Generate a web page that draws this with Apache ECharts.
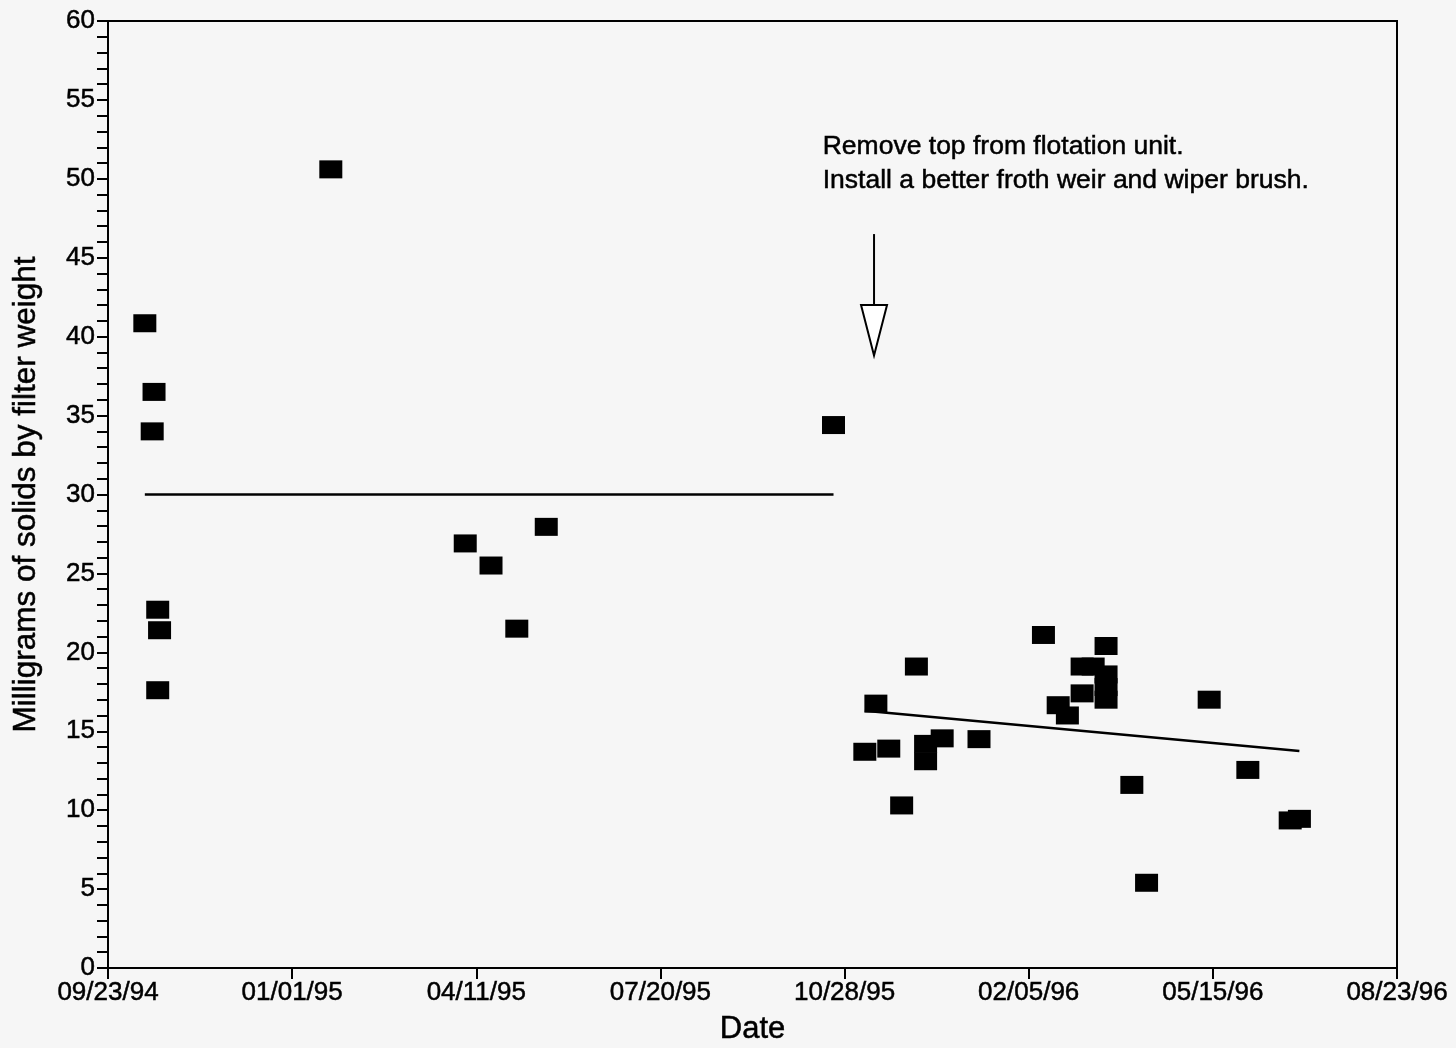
<!DOCTYPE html>
<html>
<head>
<meta charset="utf-8">
<script src="https://cdn.jsdelivr.net/npm/echarts@6/dist/echarts.min.js"></script>
<style>
  html, body { margin: 0; padding: 0; background: #f6f6f6; }
  #chart { width: 1456px; height: 1048px; }
</style>
</head>
<body>
<div id="chart"></div>
<script>
// Sampling dates (x axis counts days from the first tick date)
const startDate = '1994-09-23';
const xTickLabels = ['09/23/94', '01/01/95', '04/11/95', '07/20/95', '10/28/95', '02/05/96', '05/15/96', '08/23/96'];

// Before the flotation unit was modified
const periodOneDates = ['1994-10-13', '1994-10-18', '1994-10-17', '1994-10-20', '1994-10-21', '1994-10-20',
  '1995-01-22', '1995-04-05', '1995-04-19', '1995-05-03', '1995-05-19', '1995-10-22'];
const periodOneSolids = [40.85, 36.5, 34.0, 22.7, 21.4, 17.6, 50.6, 26.9, 25.5, 21.5, 27.95, 34.4];

// After the top was removed and the new weir / wiper brush installed
const periodTwoDates = ['1995-11-08', '1995-11-14', '1995-11-21', '1995-11-28', '1995-12-06', '1995-12-11',
  '1995-12-11', '1995-12-20', '1996-01-09', '1996-02-13', '1996-02-21', '1996-02-26', '1996-03-05',
  '1996-03-05', '1996-03-11', '1996-03-18', '1996-03-18', '1996-03-18', '1996-03-18', '1996-04-01',
  '1996-04-09', '1996-05-13', '1996-06-03', '1996-06-26', '1996-07-01'];
const periodTwoSolids = [13.7, 16.75, 13.9, 10.3, 19.1, 14.2, 13.1, 14.55, 14.5, 21.1, 16.65, 16.0, 17.4,
  19.1, 19.1, 20.4, 18.6, 17.8, 17.0, 11.6, 5.4, 17.0, 12.55, 9.35, 9.45];

// Fitted lines for each period
const meanLineDates = ['1994-10-13', '1995-10-22'];
const meanLineValues = [30, 30];
const trendLineDates = ['1995-11-08', '1996-07-01'];
const trendLineValues = [16.3, 13.75];

// Annotation for the equipment change
const noteLines = ['Remove top from flotation unit.', 'Install a better froth weir and wiper brush.'];
const noteDate = '1995-10-16';
const noteTop = 53.1;
const arrowDate = '1995-11-13';
const arrowStart = 46.5;
const arrowShaftEnd = 42.0;
const arrowTip = 38.8;

const DAY = 86400000;
function dayOffset(d) {
  return Math.round((Date.parse(d) - Date.parse(startDate)) / DAY);
}
function pairs(dates, values) {
  return dates.map((d, i) => [dayOffset(d), values[i]]);
}

const FONT = '"Liberation Sans", Arial, Helvetica, sans-serif';
// slightly heavier strokes for the printed-look lettering
const inkText = { color: '#000', textBorderColor: '#000', textBorderWidth: 0.5 };
const chart = echarts.init(document.getElementById('chart'), null, { renderer: 'canvas' });

const markerStyle = { color: '#000', opacity: 1 };

chart.setOption({
  backgroundColor: '#f6f6f6',
  animation: false,
  grid: {
    left: 108, right: 59, top: 21, bottom: 80,
    containLabel: false, outerBoundsMode: 'none',
    show: true, borderColor: '#000', borderWidth: 2, backgroundColor: 'transparent'
  },
  xAxis: {
    type: 'value',
    min: 0, max: 700, interval: 100,
    name: 'Date',
    nameLocation: 'middle',
    nameGap: 46,
    nameTextStyle: Object.assign({ fontFamily: FONT, fontSize: 31 }, inkText),
    axisLine: { lineStyle: { color: '#000', width: 2 } },
    axisTick: { inside: false, length: 11, lineStyle: { color: '#000', width: 2 } },
    axisLabel: Object.assign({
      margin: 12, fontFamily: FONT, fontSize: 26,
      formatter: v => xTickLabels[Math.round(v / 100)] || ''
    }, inkText),
    splitLine: { show: false }
  },
  yAxis: {
    type: 'value',
    min: 0, max: 60, interval: 5,
    name: 'Milligrams of solids by filter weight',
    nameLocation: 'middle',
    nameGap: 66,
    nameTextStyle: Object.assign({ fontFamily: FONT, fontSize: 31.5 }, inkText),
    axisLine: { lineStyle: { color: '#000', width: 2 } },
    axisTick: { inside: false, length: 11, lineStyle: { color: '#000', width: 2 } },
    minorTick: { show: true, splitNumber: 5, length: 11, lineStyle: { color: '#000', width: 2 } },
    axisLabel: Object.assign({ margin: 13, fontFamily: FONT, fontSize: 26 }, inkText),
    splitLine: { show: false }
  },
  series: [
    {
      type: 'line', data: pairs(meanLineDates, meanLineValues), symbol: 'none',
      lineStyle: { color: '#000', width: 2.5 }, z: 2
    },
    {
      type: 'line', data: pairs(trendLineDates, trendLineValues), symbol: 'none',
      lineStyle: { color: '#000', width: 2.5 }, z: 2
    },
    {
      type: 'scatter', data: pairs(periodOneDates, periodOneSolids),
      symbol: 'rect', symbolSize: [23, 18], itemStyle: markerStyle, z: 3
    },
    {
      type: 'scatter', data: pairs(periodTwoDates, periodTwoSolids),
      symbol: 'rect', symbolSize: [23, 18], itemStyle: markerStyle, z: 3
    }
  ]
});

// Annotation text and hollow arrow, placed in data coordinates
const notePos = chart.convertToPixel({ gridIndex: 0 }, [dayOffset(noteDate), noteTop]);
const a0 = chart.convertToPixel({ gridIndex: 0 }, [dayOffset(arrowDate), arrowStart]);
const a1 = chart.convertToPixel({ gridIndex: 0 }, [dayOffset(arrowDate), arrowShaftEnd]);
const a2 = chart.convertToPixel({ gridIndex: 0 }, [dayOffset(arrowDate), arrowTip]);
const headHalf = 13;

chart.setOption({
  graphic: [
    {
      type: 'text', left: notePos[0], top: notePos[1], z: 10,
      style: {
        text: noteLines.join('\n'), fontFamily: FONT, fontSize: 26.5, lineHeight: 34,
        fill: '#000', stroke: '#000', lineWidth: 0.5
      }
    },
    {
      type: 'line', z: 10,
      shape: { x1: a0[0], y1: a0[1], x2: a1[0], y2: a1[1] },
      style: { stroke: '#000', lineWidth: 2 }
    },
    {
      type: 'polygon', z: 10,
      shape: { points: [[a1[0] - headHalf, a1[1]], [a1[0] + headHalf, a1[1]], [a2[0], a2[1]]] },
      style: { fill: '#fff', stroke: '#000', lineWidth: 2 }
    }
  ]
});
</script>
</body>
</html>
